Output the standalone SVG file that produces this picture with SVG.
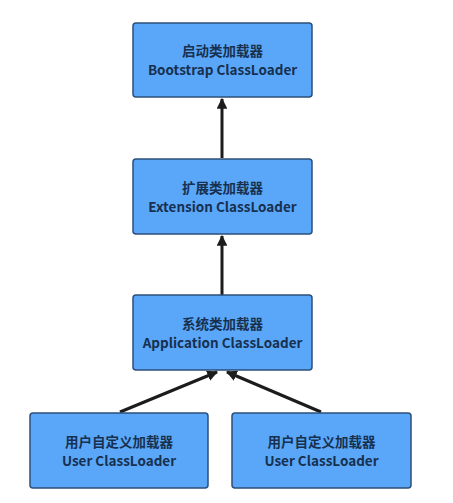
<svg xmlns="http://www.w3.org/2000/svg" width="453" height="503" viewBox="0 0 453 503">
<style>
.box{fill:#5aa7f9;stroke:#2d4f7a;stroke-width:1.5}
.t{font-family:"Noto Sans CJK SC","Noto Sans",sans-serif;font-weight:bold;font-size:13.5px;fill:#17304f;text-anchor:middle}
.e{stroke:#1c1c1c;stroke-width:3;fill:none;marker-end:url(#ah)}
</style>
<defs>
<marker id="ah" viewBox="0 0 10 10" refX="9" refY="5" markerWidth="3.6" markerHeight="3.6" orient="auto" markerUnits="strokeWidth">
<path d="M0,0 L10,5 L0,10 z" fill="#1c1c1c"/>
</marker>
</defs>
<rect width="453" height="503" fill="#ffffff"/>
<g id="connectors">
<line class="e" x1="222" y1="158" x2="222" y2="99"/>
<line class="e" x1="222" y1="295" x2="222" y2="236"/>
<line class="e" x1="120" y1="412" x2="217" y2="372"/>
<line class="e" x1="321" y1="412" x2="227" y2="372"/>
</g>
<g id="bootstrap">
<rect class="box" x="133" y="23" width="179" height="74" rx="3"/>
<text class="t" x="222.5" y="56">启动类加载器</text>
<text class="t" x="222.5" y="75">Bootstrap ClassLoader</text>
</g>
<g id="extension">
<rect class="box" x="133" y="159" width="179" height="75" rx="3"/>
<text class="t" x="222.5" y="193">扩展类加载器</text>
<text class="t" x="222.5" y="212">Extension ClassLoader</text>
</g>
<g id="application">
<rect class="box" x="133" y="295" width="179" height="75" rx="3"/>
<text class="t" x="222.5" y="329">系统类加载器</text>
<text class="t" x="222.5" y="348">Application ClassLoader</text>
</g>
<g id="user1">
<rect class="box" x="30" y="413" width="178" height="75" rx="3"/>
<text class="t" x="119" y="447">用户自定义加载器</text>
<text class="t" x="119" y="466">User ClassLoader</text>
</g>
<g id="user2">
<rect class="box" x="232" y="413" width="179" height="75" rx="3"/>
<text class="t" x="321.5" y="447">用户自定义加载器</text>
<text class="t" x="321.5" y="466">User ClassLoader</text>
</g>
</svg>
